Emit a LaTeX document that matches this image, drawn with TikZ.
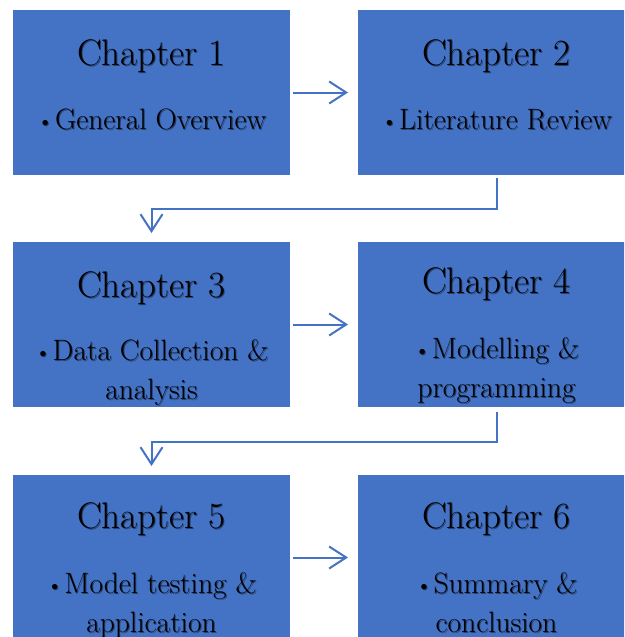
\documentclass[tikz,border=0pt]{standalone}
\usetikzlibrary{arrows.meta}
\definecolor{boxblue}{HTML}{4472C4}
\colorlet{shadowc}{boxblue!55!black}
\newcommand{\bul}{{\fontsize{24}{24}\selectfont\textbullet}\kern1pt}
\newcommand{\sh}[1]{\rlap{\kern1pt\raisebox{-1pt}{\color{shadowc}#1}}#1}
\begin{document}
\begin{tikzpicture}[x=1pt,y=-1pt,
  chapbox/.style={fill=boxblue, draw=none, minimum width=277pt, minimum height=165pt, inner sep=0pt, outer sep=0pt, anchor=north west},
  title/.style={anchor=base, inner sep=0pt, font=\fontsize{37}{44}\selectfont},
  body/.style={anchor=base, inner sep=0pt, font=\fontsize{29.5}{39}\selectfont},
  conn/.style={draw=boxblue, line width=2pt, -{Straight Barb[length=17pt,width=22pt]}}]
\useasboundingbox (0,0) rectangle (624,637);
\clip (0,0) rectangle (624,637);
\node[chapbox] (c1) at (13,10) {};
\node[chapbox] (c2) at (358,10) {};
\node[chapbox] (c3) at (13,242) {};
\node[chapbox] (c4) at (358,242) {};
\node[chapbox] (c5) at (13,475) {};
\node[chapbox] (c6) at (358,475) {};
% texts
\node[title] (t1) at (151.5,65) {\sh{Chapter 1}};
\node[body] (b1) at (151.5,129) {\sh{\bul General Overview}};
\node[title] (t2) at (496.5,65) {\sh{Chapter 2}};
\node[body] (b2) at (496.5,129) {\sh{\bul Literature Review}};
\node[title] (t3) at (151.5,297) {\sh{Chapter 3}};
\node[body] (b3a) at (151.5,360) {\sh{\bul Data Collection \&}};
\node[body] (b3b) at (151.5,399) {\sh{analysis}};
\node[title] (t4) at (496.5,293) {\sh{Chapter 4}};
\node[body] (b4a) at (496.5,358) {\sh{\bul Modelling \&}};
\node[body] (b4b) at (496.5,397) {\sh{programming}};
\node[title] (t5) at (151.5,528) {\sh{Chapter 5}};
\node[body] (b5a) at (151.5,593) {\sh{\bul Model testing \&}};
\node[body] (b5b) at (151.5,632) {\sh{application}};
\node[title] (t6) at (496.5,528) {\sh{Chapter 6}};
\node[body] (b6a) at (496.5,593) {\sh{\bul Summary \&}};
\node[body] (b6b) at (496.5,632) {\sh{conclusion}};
% connectors
\draw[conn, shorten <=3pt, shorten >=10pt] (c1.east) -- (c2.west);
\draw[conn, shorten <=3pt, shorten >=10pt] (c3.east) -- (c4.west);
\draw[conn, shorten <=3pt, shorten >=10pt] (c5.east) -- (c6.west);
\draw[conn, shorten <=3pt, shorten >=9pt] (c2.south) -- ++(0,34) -| (c3.north);
\draw[conn, shorten <=5pt, shorten >=9pt] (c4.south) -- ++(0,35) -| (c5.north);
\end{tikzpicture}
\end{document}
